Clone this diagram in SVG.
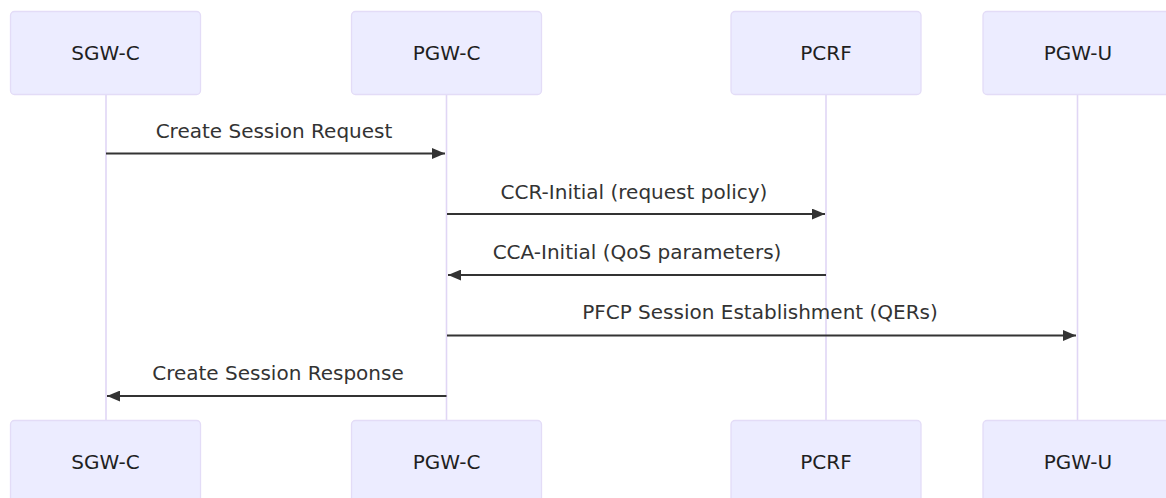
<svg xmlns="http://www.w3.org/2000/svg" width="1166" height="498" viewBox="0 0 1166 498">
<defs>
<style>
.actor{fill:#ECECFF;stroke:#e3dcf7;stroke-width:1.3}
.atext{font-family:"DejaVu Sans",sans-serif;font-size:20px;fill:#1f1f1f;text-anchor:middle;dominant-baseline:central}
.life{stroke:#e0d6f5;stroke-width:1.6;fill:none}
.msg{stroke:#333;stroke-width:2;fill:none}
.mtext{font-family:"DejaVu Sans",sans-serif;font-size:20px;fill:#333;text-anchor:middle;dominant-baseline:central}
</style>
<marker id="ah" viewBox="0 0 12 10" refX="12" refY="5" markerWidth="13" markerHeight="11" markerUnits="userSpaceOnUse" orient="auto">
<path d="M0,0 L12,5 L0,10 z" fill="#333"/>
</marker>
</defs>
<rect width="1166" height="498" fill="#fff"/>
<g id="lifelines">
<line class="life" x1="106" y1="94" x2="106" y2="420"/>
<line class="life" x1="446.5" y1="94" x2="446.5" y2="420"/>
<line class="life" x1="826" y1="94" x2="826" y2="420"/>
<line class="life" x1="1077.5" y1="94" x2="1077.5" y2="420"/>
</g>
<g id="SGW-C-top"><rect class="actor" x="10.5" y="11.5" width="190" height="83" rx="4"/><text class="atext" x="105.5" y="53">SGW-C</text></g>
<g id="PGW-C-top"><rect class="actor" x="351.5" y="11.5" width="190" height="83" rx="4"/><text class="atext" x="446.5" y="53">PGW-C</text></g>
<g id="PCRF-top"><rect class="actor" x="731" y="11.5" width="190" height="83" rx="4"/><text class="atext" x="826" y="53">PCRF</text></g>
<g id="PGW-U-top"><rect class="actor" x="983" y="11.5" width="190" height="83" rx="4"/><text class="atext" x="1078" y="53">PGW-U</text></g>
<g id="SGW-C-bottom"><rect class="actor" x="10.5" y="420.5" width="190" height="83" rx="4"/><text class="atext" x="105.5" y="462">SGW-C</text></g>
<g id="PGW-C-bottom"><rect class="actor" x="351.5" y="420.5" width="190" height="83" rx="4"/><text class="atext" x="446.5" y="462">PGW-C</text></g>
<g id="PCRF-bottom"><rect class="actor" x="731" y="420.5" width="190" height="83" rx="4"/><text class="atext" x="826" y="462">PCRF</text></g>
<g id="PGW-U-bottom"><rect class="actor" x="983" y="420.5" width="190" height="83" rx="4"/><text class="atext" x="1078" y="462">PGW-U</text></g>
<g id="connectors">
<line class="msg" x1="106" y1="153.5" x2="445" y2="153.5" marker-end="url(#ah)"/>
<text class="mtext" x="274" y="131">Create Session Request</text>
<line class="msg" x1="447" y1="214" x2="825" y2="214" marker-end="url(#ah)"/>
<text class="mtext" x="634" y="192">CCR-Initial (request policy)</text>
<line class="msg" x1="826" y1="275" x2="448" y2="275" marker-end="url(#ah)"/>
<text class="mtext" x="637" y="252">CCA-Initial (QoS parameters)</text>
<line class="msg" x1="447" y1="335.5" x2="1076" y2="335.5" marker-end="url(#ah)"/>
<text class="mtext" x="760" y="312">PFCP Session Establishment (QERs)</text>
<line class="msg" x1="446.5" y1="396" x2="107" y2="396" marker-end="url(#ah)"/>
<text class="mtext" x="278" y="373">Create Session Response</text>
</g>
</svg>
